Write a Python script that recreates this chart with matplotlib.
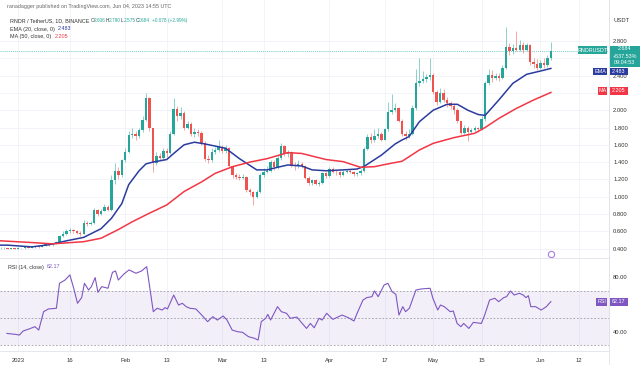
import numpy as np
import matplotlib
matplotlib.use("Agg")
import matplotlib.pyplot as plt
from matplotlib.patches import Rectangle
from matplotlib.lines import Line2D

W, H = 644, 365

# daily candles, day 0 = Jan 01 2023, first candle = Dec 27 2022
start_day = -5
first_open = 0.402
closes = [0.405, 0.410, 0.400, 0.405, 0.398, 0.408, 0.404, 0.415, 0.410, 0.420,
          0.425, 0.418, 0.435, 0.448, 0.440, 0.455, 0.475, 0.540, 0.570, 0.600,
          0.610, 0.605, 0.585, 0.570, 0.700, 0.680, 0.700, 0.850, 0.800, 0.840,
          0.880, 0.850, 1.190, 1.300, 1.250, 1.420, 1.520, 1.710, 1.730, 1.700,
          1.770, 1.890, 2.140, 1.790, 1.390, 1.470, 1.450, 1.530, 1.500, 1.730,
          2.010, 1.930, 1.970, 1.800, 1.840, 1.720, 1.750, 1.740, 1.620, 1.440,
          1.430, 1.520, 1.540, 1.580, 1.530, 1.560, 1.350, 1.250, 1.230, 1.220,
          1.230, 1.080, 1.050, 1.000, 1.060, 1.250, 1.290, 1.300, 1.400, 1.340,
          1.450, 1.590, 1.490, 1.520, 1.370, 1.350, 1.380, 1.360, 1.220, 1.160,
          1.190, 1.150, 1.160, 1.270, 1.240, 1.320, 1.290, 1.280, 1.250, 1.290,
          1.300, 1.290, 1.260, 1.270, 1.300, 1.550, 1.690, 1.650, 1.700, 1.730,
          1.660, 1.780, 1.980, 2.000, 2.030, 1.880, 1.720, 1.700, 1.730, 2.020,
          2.310, 2.340, 2.360, 2.380, 2.410, 2.210, 2.100, 2.200, 2.120, 2.080,
          2.050, 2.000, 1.870, 1.740, 1.800, 1.750, 1.770, 1.790, 1.780, 1.900,
          2.310, 2.410, 2.370, 2.400, 2.370, 2.490, 2.730, 2.680, 2.720, 2.700,
          2.750, 2.700, 2.750, 2.560, 2.530, 2.490, 2.550, 2.520, 2.606, 2.684]
highs = [0.415, 0.418, 0.412, 0.412, 0.408, 0.415, 0.412, 0.422, 0.418, 0.428,
         0.432, 0.428, 0.440, 0.455, 0.452, 0.462, 0.485, 0.560, 0.600, 0.625,
         0.640, 0.630, 0.615, 0.600, 0.730, 0.720, 0.720, 0.870, 0.860, 0.860,
         0.910, 0.900, 1.250, 1.390, 1.340, 1.440, 1.560, 1.760, 1.800, 1.760,
         1.800, 1.930, 2.200, 2.150, 1.800, 1.520, 1.510, 1.560, 1.560, 1.760,
         2.140, 2.050, 2.040, 1.990, 1.880, 1.860, 1.790, 1.780, 1.760, 1.640,
         1.480, 1.560, 1.580, 1.650, 1.600, 1.600, 1.570, 1.360, 1.270, 1.260,
         1.260, 1.240, 1.100, 1.070, 1.080, 1.270, 1.330, 1.360, 1.420, 1.420,
         1.480, 1.620, 1.600, 1.540, 1.530, 1.400, 1.420, 1.400, 1.370, 1.240,
         1.210, 1.200, 1.180, 1.290, 1.290, 1.340, 1.340, 1.310, 1.300, 1.310,
         1.320, 1.320, 1.300, 1.290, 1.320, 1.570, 1.720, 1.740, 1.780, 1.790,
         1.750, 1.800, 2.100, 2.190, 2.080, 2.040, 1.900, 1.760, 1.780, 2.060,
         2.480, 2.600, 2.450, 2.420, 2.600, 2.430, 2.230, 2.260, 2.240, 2.150,
         2.110, 2.080, 2.020, 1.880, 1.830, 1.820, 1.800, 1.820, 1.810, 1.930,
         2.340, 2.480, 2.460, 2.430, 2.430, 2.520, 2.965, 2.780, 2.760, 2.910,
         2.810, 2.790, 2.780, 2.760, 2.600, 2.590, 2.580, 2.600, 2.640, 2.790]
lows = [0.395, 0.398, 0.392, 0.395, 0.390, 0.395, 0.398, 0.400, 0.402, 0.405,
        0.412, 0.410, 0.415, 0.430, 0.432, 0.435, 0.450, 0.470, 0.530, 0.560,
        0.585, 0.575, 0.565, 0.550, 0.565, 0.660, 0.670, 0.690, 0.780, 0.790,
        0.830, 0.830, 0.840, 1.150, 1.200, 1.230, 1.400, 1.500, 1.680, 1.660,
        1.680, 1.750, 1.870, 1.760, 1.290, 1.370, 1.420, 1.430, 1.460, 1.490,
        1.710, 1.880, 1.900, 1.770, 1.780, 1.700, 1.690, 1.700, 1.600, 1.410,
        1.390, 1.400, 1.490, 1.520, 1.500, 1.500, 1.330, 1.220, 1.200, 1.190,
        1.200, 1.060, 1.020, 0.900, 0.980, 1.040, 1.230, 1.270, 1.290, 1.310,
        1.320, 1.430, 1.470, 1.460, 1.340, 1.310, 1.330, 1.330, 1.200, 1.130,
        1.140, 1.130, 1.120, 1.150, 1.220, 1.230, 1.270, 1.250, 1.230, 1.240,
        1.270, 1.270, 1.240, 1.240, 1.250, 1.290, 1.540, 1.620, 1.630, 1.680,
        1.640, 1.650, 1.760, 1.960, 1.980, 1.860, 1.700, 1.660, 1.680, 1.710,
        2.000, 2.280, 2.310, 2.330, 2.350, 2.190, 2.060, 2.080, 2.100, 2.040,
        2.010, 1.960, 1.850, 1.720, 1.720, 1.640, 1.730, 1.750, 1.750, 1.770,
        1.880, 2.290, 2.330, 2.350, 2.340, 2.360, 2.480, 2.640, 2.650, 2.680,
        2.680, 2.660, 2.680, 2.520, 2.490, 2.460, 2.480, 2.490, 2.500, 2.575]

ema_days = [-5, -3, 4, 9, 14, 19, 24, 27, 30, 32, 35, 37, 39, 43, 45, 48, 51, 54,
            60, 64, 69, 72, 75, 78, 82, 85, 89, 94, 98, 100, 105, 109, 111, 113,
            116, 120, 124, 127, 130, 133, 135, 139, 143, 147, 151, 154]
ema_vals = [0.44, 0.44, 0.42, 0.445, 0.49, 0.53, 0.63, 0.75, 0.92, 1.14, 1.30, 1.38,
            1.40, 1.43, 1.50, 1.60, 1.63, 1.61, 1.56, 1.44, 1.31, 1.31, 1.34, 1.367,
            1.355, 1.31, 1.30, 1.31, 1.32, 1.35, 1.48, 1.61, 1.656, 1.694, 1.867,
            2.00, 2.068, 2.068, 2.00, 1.95, 1.94, 2.12, 2.31, 2.415, 2.453, 2.483]

ma_days = [-5, 4, 10, 19, 24, 29, 33, 38, 43, 48, 53, 57, 62, 67, 72, 78, 82, 89,
           94, 99, 103, 107, 111, 116, 120, 126, 132, 135, 139, 144, 149, 154]
ma_vals = [0.49, 0.47, 0.455, 0.48, 0.52, 0.62, 0.71, 0.81, 0.905, 1.06, 1.17, 1.27,
           1.347, 1.40, 1.44, 1.51, 1.50, 1.43, 1.405, 1.34, 1.347, 1.38, 1.41, 1.54,
           1.617, 1.683, 1.733, 1.80, 1.906, 2.02, 2.118, 2.205]

rsi_days = [-3.2, -0.7, 0.4, 1.5, 3.2, 4.9, 6.0, 7.4, 8.8, 11.1,
            12.0, 13.6, 15.0, 16.1, 17.2, 18.4, 19.2, 20.4, 21.2, 22.3,
            23.1, 24.2, 26.0, 27.3, 28.2, 29.0, 30.5, 32.1, 34.1, 35.7,
            37.2, 39.1, 40.2, 41.7, 42.5, 43.2, 45.0, 46.4, 47.5, 48.6,
            49.7, 51.4, 53.1, 54.8, 56.3, 57.6, 59.3, 60.4, 61.9, 63.4,
            64.9, 66.6, 68.3, 69.4, 70.3, 71.6, 72.2, 73.0, 75.0, 76.1,
            77.6, 78.7, 80.6, 81.7, 83.4, 84.5, 85.6, 87.0, 87.9, 89.2,
            91.0, 92.4, 93.7, 95.5, 97.1, 98.0, 99.7, 100.8, 102.3, 103.0,
            104.1, 105.8, 106.9, 108.1, 109.2, 110.1, 111.2, 112.0, 113.1, 115.0,
            116.5, 119.1, 119.9, 121.3, 122.1, 123.2, 124.9, 125.8, 126.9, 128.0,
            128.8, 130.3, 131.6, 133.9, 134.8, 136.3, 137.8, 138.9, 140.4, 141.2,
            142.3, 143.4, 144.9, 146.0, 146.8, 147.5, 148.2, 149.6, 151.2, 152.7,
            154.0]
rsi_vals = [38.6, 37.9, 37.4, 40.4, 41.9, 43.6, 41.1, 54.7, 56.7, 57.2,
            75.7, 78.1, 81.9, 72.0, 60.9, 65.1, 75.7, 70.7, 73.2, 79.9,
            69.0, 73.2, 72.0, 83.8, 84.8, 78.1, 82.3, 85.6, 83.1, 84.8,
            88.0, 54.7, 57.2, 55.9, 57.7, 56.7, 67.0, 59.6, 60.9, 58.4,
            57.2, 56.7, 52.2, 47.3, 51.0, 48.5, 51.5, 48.5, 41.1, 39.9,
            39.4, 36.2, 35.0, 33.7, 47.3, 49.8, 52.7, 48.5, 58.4, 54.7,
            53.5, 49.8, 50.7, 47.3, 42.3, 46.0, 42.8, 49.8, 48.5, 53.5,
            49.0, 50.7, 52.2, 50.2, 47.8, 53.5, 63.3, 65.1, 65.8, 70.0,
            65.8, 74.4, 75.7, 69.5, 67.5, 52.2, 58.4, 54.7, 57.2, 70.7,
            71.5, 72.0, 64.6, 55.9, 59.6, 58.4, 54.7, 55.2, 46.0, 43.6,
            46.0, 42.3, 46.8, 46.0, 51.7, 63.3, 64.6, 62.1, 65.1, 65.8,
            70.0, 67.0, 68.3, 67.0, 65.1, 66.5, 58.4, 58.4, 55.9, 58.4,
            62.17]

tick_days = [0, 15, 31, 43, 59, 71, 90, 106, 120, 134, 151, 162]
tick_labels = ["2023", "16", "Feb", "13", "Mar", "13", "Apr", "17", "May", "15", "Jun", "12"]
price_ticks = [0.4, 0.6, 0.8, 1.0, 1.2, 1.4, 1.6, 1.8, 2.0, 2.2, 2.4, 2.6, 2.8]
hidden_ticks = [2.2, 2.6]   # covered by the price / MA labels on the scale
rsi_ticks = [40, 80]

GREEN = "#26a69a"
RED = "#ef5350"
EMA_C = "#2a3c9e"
MA_C = "#f23645"
RSI_C = "#7e57c2"
GRID = "#f0f3fa"
BORDER = "#e0e3eb"
TXT = "#333333"
FS = 4.2

plt.rcParams['font.family'] = ['Liberation Sans', 'DejaVu Sans']


def fx(x):
    return x / W


def fy(y):
    return 1 - y / H


fig = plt.figure(figsize=(W / 100, H / 100), dpi=100)
ax = fig.add_axes([0, fy(257), fx(609), fy(0) - fy(257)])
ax2 = fig.add_axes([0, fy(351), fx(609), fy(258) - fy(351)])

# candles
closes = np.array(closes)
opens = np.r_[first_open, closes[:-1]]
days = np.arange(start_day, start_day + len(closes))
cols = np.where(closes >= opens, GREEN, RED)
ax.vlines(days, lows, highs, colors=cols, lw=0.6, alpha=0.6, zorder=2)
ax.bar(days, np.maximum(np.abs(closes - opens), 0.006), bottom=np.minimum(opens, closes),
       width=0.7, color=cols, lw=0, zorder=3)

ax.plot(ema_days, ema_vals, color=EMA_C, lw=1.1, zorder=4)
ax.plot(ma_days, ma_vals, color=MA_C, lw=1.1, zorder=4)
ax.axhline(closes[-1], color=GREEN, lw=0.5, ls=(0, (1.5, 1.5)), alpha=0.8, zorder=1)
ax.plot([154], [0.338], marker="o", ms=4.5, mfc="white", mec="#a77de0", mew=0.8, zorder=5)

ax.set_xlim(-5.2, 170.8)
ax.set_ylim(0.303, 3.274)
ax.set_xticks(tick_days)
ax.set_yticks(price_ticks)
ax.set_yticklabels(["" if p in hidden_ticks else f"{p:.3f}" for p in price_ticks])
ax.yaxis.tick_right()
ax.tick_params(axis="x", length=0, labelbottom=False)
ax.tick_params(axis="y", length=0, pad=3, labelsize=FS, labelcolor=TXT)
ax.grid(color=GRID, lw=0.6)
ax.set_axisbelow(True)
for s in ["top", "left", "bottom"]:
    ax.spines[s].set_visible(False)
ax.spines["right"].set_color(BORDER)
ax.spines["right"].set_linewidth(0.6)

# RSI panel
ax2.axhspan(30, 70, color=RSI_C, alpha=0.09, lw=0)
for lvl in [70, 50, 30]:
    ax2.axhline(lvl, color="#8a8d96", lw=0.5, ls=(0, (2.5, 2.5)))
ax2.plot(rsi_days, rsi_vals, color=RSI_C, lw=0.8, zorder=3)
ax2.set_xlim(-5.2, 170.8)
ax2.set_ylim(25.6, 94.4)
ax2.set_xticks(tick_days)
ax2.set_xticklabels(tick_labels)
ax2.set_yticks(rsi_ticks)
ax2.set_yticklabels([f"{v:.2f}" for v in rsi_ticks])
ax2.yaxis.tick_right()
ax2.tick_params(axis="x", length=0, pad=5, labelsize=FS, labelcolor=TXT)
ax2.tick_params(axis="y", length=0, pad=3, labelsize=FS, labelcolor=TXT)
ax2.grid(axis="x", color=GRID, lw=0.6)
ax2.set_axisbelow(True)
ax2.spines["left"].set_visible(False)
for s in ["top", "right", "bottom"]:
    ax2.spines[s].set_color(BORDER)
    ax2.spines[s].set_linewidth(0.6)

fig.add_artist(Line2D([fx(609), fx(609)], [0, 1], color=BORDER, lw=0.6))


# header texts, placed at the x positions seen in the reference
def put(parts, y, fs=3.9):
    for x, text, color in parts:
        fig.text(fx(x), fy(y), text, color=color, fontsize=fs, va="center", ha="left")


put([(7, "ranadagger published on TradingView.com, Jun 04, 2023 14:55 UTC", "#666666")], 6.5)
put([(10, "RNDR / TetherUS, 1D, BINANCE", TXT)], 20.5)
put([(90.5, "O", TXT), (93.3, "2.606", GREEN),
     (106, "H", TXT), (108.5, "2.790", GREEN), (121, "L", TXT), (123.3, "2.575", GREEN),
     (135.5, "C", TXT), (138, "2.684", GREEN), (152, "+0.078 (+2.99%)", GREEN)], 20.5, fs=3.45)
put([(10, "EMA (20, close, 0)", TXT), (58, "2.483", EMA_C)], 29)
put([(10, "MA (50, close, 0)", TXT), (55, "2.205", MA_C)], 36.5)
put([(8, "RSI (14, close)", TXT), (47, "62.17", RSI_C)], 267)
fig.text(fx(613.5), fy(21), "USDT", fontsize=FS, color=TXT, va="center")


def box(x0, y0, x1, y1, color, lines, fs=3.9):
    fig.add_artist(Rectangle((fx(x0), fy(y1)), fx(x1) - fx(x0), fy(y0) - fy(y1),
                             transform=fig.transFigure, color=color, lw=0, zorder=5))
    step = (y1 - y0) / len(lines)
    for i, s in enumerate(lines):
        fig.text(fx((x0 + x1) / 2), fy(y0 + step * (i + 0.5)), s, color="white",
                 fontsize=fs, ha="center", va="center", zorder=6)


box(578, 46.5, 607, 54, GREEN, ["RNDRUSDT"])
box(609.5, 45.5, 640, 66.5, GREEN, ["2.684", "+537.53%", "09:04:53"])
box(593, 67.5, 607, 75, EMA_C, ["EMA"])
box(609.5, 67.5, 628, 75, EMA_C, ["2.483"])
box(598, 87, 607, 95, MA_C, ["MA"])
box(609.5, 87, 628, 95, MA_C, ["2.205"])
box(596, 298, 607, 305.5, RSI_C, ["RSI"])
box(609.5, 298, 628, 305.5, RSI_C, ["62.17"])

fig.savefig("out.png", dpi=100)
